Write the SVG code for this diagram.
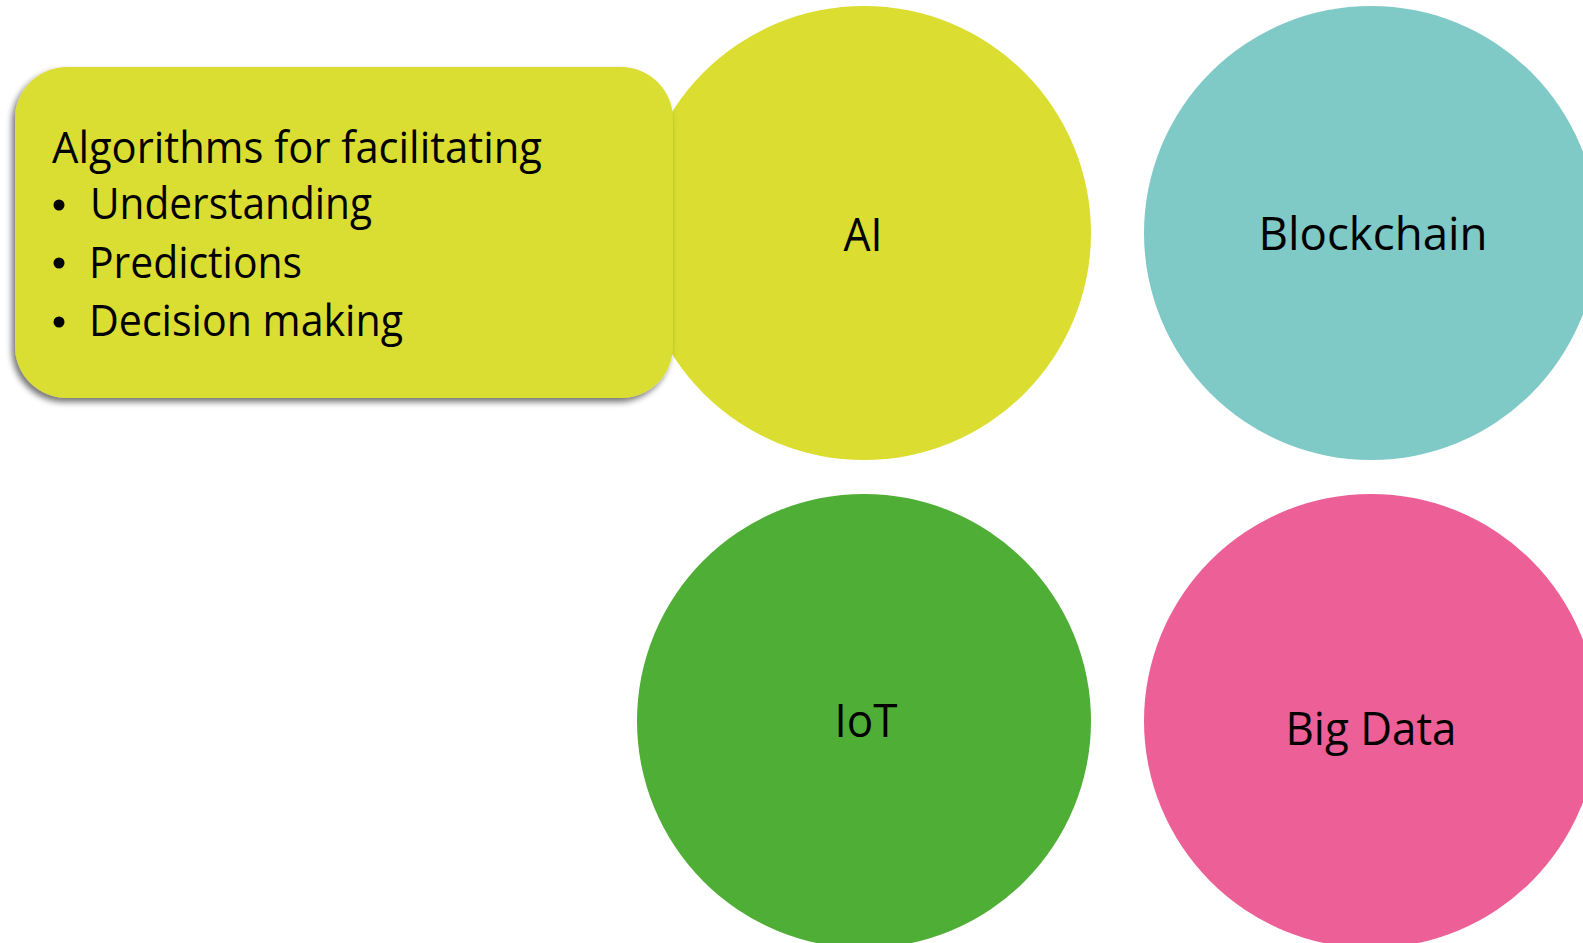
<svg xmlns="http://www.w3.org/2000/svg" width="1583" height="943" viewBox="0 0 1583 943">
<style>
  text { font-family: "Open Sans", "Liberation Sans", sans-serif; fill: #000; }
  .lbl { font-size: 46px; text-anchor: middle; }
  .body { font-size: 43px; }
</style>
<defs>
  <filter id="shadow" x="-10%" y="-10%" width="120%" height="130%">
    <feGaussianBlur in="SourceAlpha" stdDeviation="3"/>
    <feOffset dx="-3" dy="4" result="b"/>
    <feComponentTransfer><feFuncA type="linear" slope="0.55"/></feComponentTransfer>
    <feMerge><feMergeNode/><feMergeNode in="SourceGraphic"/></feMerge>
  </filter>
</defs>
<rect width="1583" height="943" fill="#fff"/>
<g id="connectors"></g>
<g id="node-ai">
  <circle cx="864" cy="233" r="227" fill="#DBDE30"/>
  <text class="lbl" x="863" y="251" textLength="39" lengthAdjust="spacingAndGlyphs">AI</text>
</g>
<g id="node-blockchain">
  <circle cx="1371" cy="233" r="227" fill="#7FC9C6"/>
  <text class="lbl" x="1373" y="250" textLength="229" lengthAdjust="spacingAndGlyphs">Blockchain</text>
</g>
<g id="node-iot">
  <circle cx="864" cy="721" r="227" fill="#4FAE35"/>
  <text class="lbl" x="866" y="737" textLength="63" lengthAdjust="spacingAndGlyphs">IoT</text>
</g>
<g id="node-bigdata">
  <circle cx="1371" cy="721" r="227" fill="#EC6097"/>
  <text class="lbl" x="1371" y="745" textLength="171" lengthAdjust="spacingAndGlyphs">Big Data</text>
</g>
<g id="node-ai-desc">
  <rect x="15" y="67" width="658" height="331" rx="52" ry="52" fill="#DBDE30" filter="url(#shadow)"/>
  <text class="body" x="52" y="163" textLength="490" lengthAdjust="spacingAndGlyphs">Algorithms for facilitating</text>
  <circle cx="59" cy="205" r="5.5" fill="#000"/>
  <text class="body" x="90" y="219" textLength="282" lengthAdjust="spacingAndGlyphs">Understanding</text>
  <circle cx="59" cy="263" r="5.5" fill="#000"/>
  <text class="body" x="89" y="278" textLength="213" lengthAdjust="spacingAndGlyphs">Predictions</text>
  <circle cx="59" cy="322" r="5.5" fill="#000"/>
  <text class="body" x="89" y="336" textLength="314" lengthAdjust="spacingAndGlyphs">Decision making</text>
</g>
</svg>
